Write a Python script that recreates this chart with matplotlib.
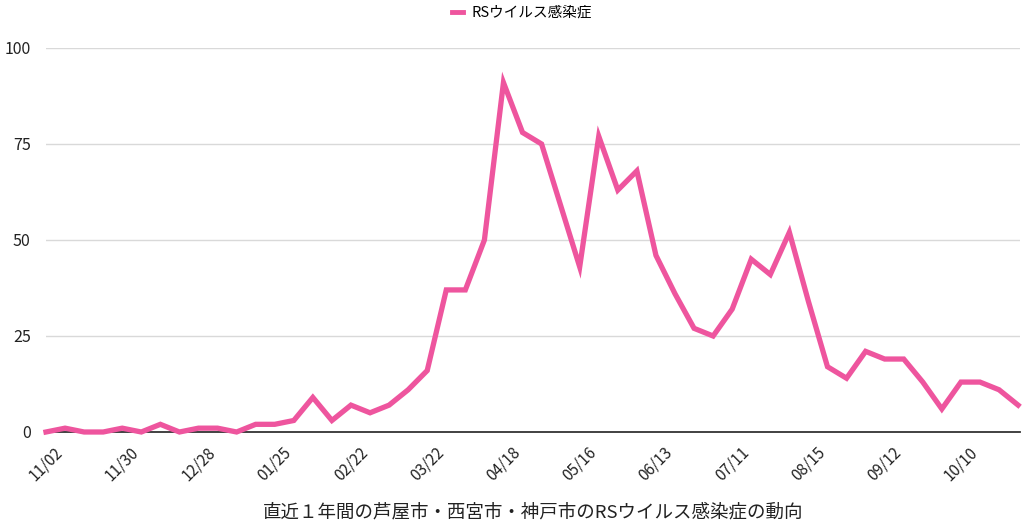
import matplotlib.pyplot as plt
import matplotlib.ticker as ticker

plt.rcParams['font.family'] = ['Noto Sans CJK JP', 'DejaVu Sans']

# weekly counts, 52 weeks
cases = [0, 1, 0, 0, 1, 0, 2, 0, 1, 1, 0, 2, 2, 3, 9, 3, 7, 5, 7, 11,
         16, 37, 37, 50, 91, 78, 75, 59, 43, 77, 63, 68, 46, 36, 27, 25,
         32, 45, 41, 52, 34, 17, 14, 21, 19, 19, 13, 6, 13, 13, 11, 7]
tick_labels = ['11/02', '11/30', '12/28', '01/25', '02/22', '03/22', '04/18',
               '05/16', '06/13', '07/11', '08/15', '09/12', '10/10']
y_ticks = [0, 25, 50, 75, 100]
series_name = 'RSウイルス感染症'
x_title = '直近１年間の芦屋市・西宮市・神戸市のRSウイルス感染症の動向'

fig = plt.figure(figsize=(10.24, 5.26), dpi=100)
ax = fig.add_axes([46/1024, 1 - 432/526, (1020 - 46)/1024, (432 - 48)/526])

weeks = list(range(len(cases)))
ax.plot(weeks, cases, color='#ee559e', linewidth=3.8, solid_joinstyle='miter',
        label=series_name, clip_on=False, zorder=3)

ax.set_xlim(0, len(cases) - 1 + 0.1)
ax.set_ylim(0, 100)
ax.set_yticks(y_ticks)
ax.set_xticks(weeks[::4])
ax.set_xticklabels(tick_labels, rotation=45, ha='center', va='top')
ax.tick_params(axis='x', length=0, pad=8.5, labelsize=11, colors='#222222')
ax.tick_params(axis='y', length=0, pad=11, labelsize=11.5, colors='#222222')

ax.grid(axis='y', color='#d9d9d9', linewidth=1)
ax.set_axisbelow(True)
for s in ['top', 'right', 'left']:
    ax.spines[s].set_visible(False)
ax.spines['bottom'].set_color('#333333')
ax.spines['bottom'].set_linewidth(1.3)

ax.set_xlabel(x_title, fontsize=13.3, color='#222222', labelpad=14)

leg = fig.legend(loc='center', bbox_to_anchor=(522/1024, 1 - 13/526), frameon=False,
                 fontsize=10.5, handlelength=0.8, handletextpad=0.6)
for h in leg.get_lines():
    h.set_linewidth(3.5)

fig.savefig('out.png', dpi=100, facecolor='white')
